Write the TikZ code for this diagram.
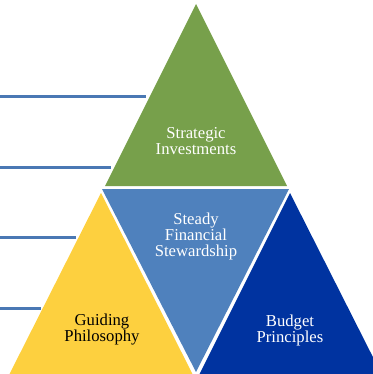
\documentclass[tikz,border=0pt]{standalone}
\usepackage{fontspec}
\setmainfont{Liberation Serif}
\definecolor{tgreen}{HTML}{77A04B}
\definecolor{tblue}{HTML}{4F81BD}
\definecolor{tyellow}{HTML}{FDD03F}
\definecolor{tnavy}{HTML}{0033A0}
\definecolor{tline}{HTML}{4A78B4}
\begin{document}
\begin{tikzpicture}[x=0.75pt,y=-0.75pt,
  lbl/.style={align=center,font=\fontsize{12.5}{12}\selectfont,text=white,inner sep=0pt},
  guide/.style={draw=tline,line width=2.25pt}]
\useasboundingbox (0,0) rectangle (373,374);
\clip (0,0) rectangle (373,374);
% triangles
\fill[tgreen] (196,4) -- (287,186) -- (105,186) -- cycle;
\fill[tblue] (102,189) -- (289,189) -- (196,372) -- cycle;
\fill[tyellow] (101,193) -- (193,375) -- (9,375) -- cycle;
\fill[tnavy] (290,193) -- (382,375) -- (199,375) -- cycle;
% guide lines
\draw[guide] (0,97) -- (146,97);
\draw[guide] (0,167) -- (111,167);
\draw[guide] (0,237) -- (76,237);
\draw[guide] (0,308) -- (41,308);
% labels
\node[lbl] (si) at (196,141) {Strategic\\Investments};
\node[lbl] (sfs) at (196,236) {Steady\\Financial\\Stewardship};
\node[lbl,text=black] (gp) at (102,330) {Guiding\\Philosophy};
\node[lbl] (bp) at (290,330) {Budget\\Principles};
\end{tikzpicture}
\end{document}
